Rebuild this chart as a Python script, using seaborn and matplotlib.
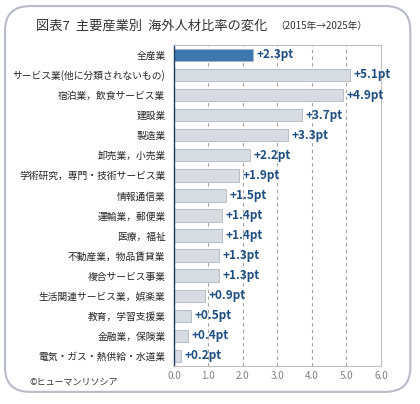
import matplotlib
matplotlib.use("Agg")
import matplotlib.pyplot as plt
import seaborn as sns
import pandas as pd
from matplotlib.patches import FancyBboxPatch

categories = ["全産業", "サービス業(他に分類されないもの)", "宿泊業，飲食サービス業", "建設業", "製造業",
              "卸売業，小売業", "学術研究，専門・技術サービス業", "情報通信業", "運輸業，郵便業", "医療，福祉",
              "不動産業，物品賃貸業", "複合サービス事業", "生活関連サービス業，娯楽業", "教育，学習支援業",
              "金融業，保険業", "電気・ガス・熱供給・水道業"]
values = [2.3, 5.1, 4.9, 3.7, 3.3, 2.2, 1.9, 1.5, 1.4, 1.4, 1.3, 1.3, 0.9, 0.5, 0.4, 0.2]
xticks = [0.0, 1.0, 2.0, 3.0, 4.0, 5.0, 6.0]

sns.set_style("white")
plt.rcParams['font.family'] = ['Noto Sans CJK JP', 'DejaVu Sans']

fig = plt.figure(figsize=(4.2, 4.04), dpi=100)
fig.patches.append(FancyBboxPatch((0.012, 0.03), 0.965, 0.955, boxstyle="round,pad=0,rounding_size=0.06",
                                  transform=fig.transFigure, facecolor="white", edgecolor="#b8bcc8", lw=1.5,
                                  zorder=-5))
ax = fig.add_axes([0.414, 0.094, 0.493, 0.795])
ax.set_zorder(2)
df = pd.DataFrame({"cat": categories, "val": values})
colors = ["#2a78c2"] + ["#d5dce4"] * (len(values) - 1)
sns.barplot(data=df, y="cat", x="val", hue="cat", palette=colors, legend=False, ax=ax, width=0.62,
            edgecolor="#b0b6bf", linewidth=0.6)
for i, v in enumerate(values):
    ax.text(v + 0.1, i, f"+{v}pt", va="center", ha="left", fontsize=8.5, fontweight="bold", color="#1f4e82")
ax.set_xlim(0, 6)
ax.set_xticks(xticks)
ax.set_xticklabels([f"{t:.1f}" for t in xticks], fontsize=7, color="#808080")
ax.tick_params(axis="y", labelsize=7, length=0, pad=6)
ax.tick_params(axis="x", length=0)
ax.set_xlabel(""); ax.set_ylabel("")
for t in xticks[1:-1]:
    ax.axvline(t, color="#a0a0a0", ls=(0, (3, 3)), lw=0.8, zorder=0)
for s in ["top", "right", "bottom"]:
    ax.spines[s].set_color("#bfbfbf"); ax.spines[s].set_linewidth(0.8)
ax.spines["left"].set_color("#1f3b5a"); ax.spines["left"].set_linewidth(1.0)
fig.text(0.085, 0.935, "図表7  主要産業別  海外人材比率の変化", fontsize=9.5, color="#333333", va="center")
fig.text(0.655, 0.935, "（2015年→2025年）", fontsize=7, color="#333333", va="center")
fig.text(0.07, 0.055, "©ヒューマンリソシア", fontsize=6.5, color="#333333", va="center")
fig.savefig("out.png", dpi=100)
